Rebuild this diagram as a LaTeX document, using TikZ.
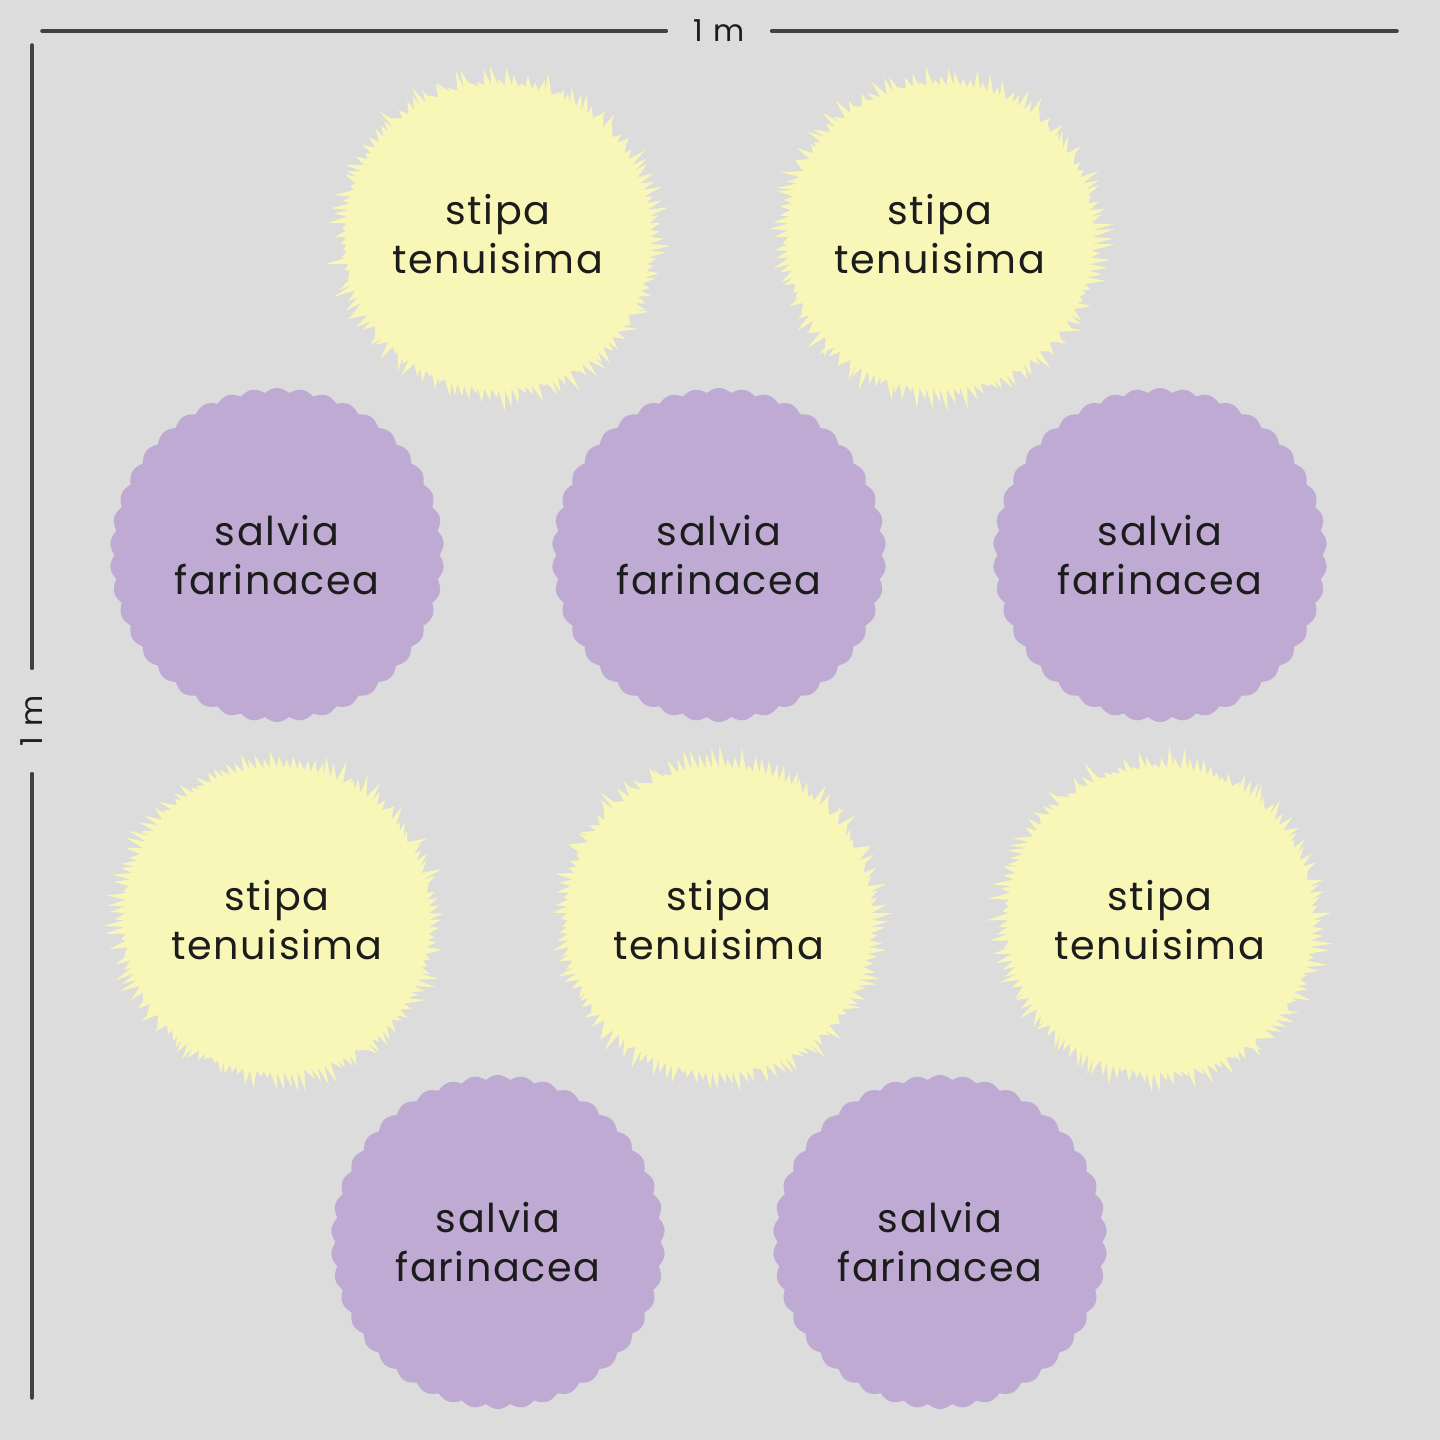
\documentclass[tikz,border=0pt]{standalone}
\usepackage{fontspec}
\setmainfont{Poppins}
\usetikzlibrary{positioning}
\definecolor{ground}{RGB}{220,220,220}
\definecolor{grass}{RGB}{249,247,183}
\definecolor{sage}{RGB}{190,170,211}
\definecolor{ink}{RGB}{28,28,28}
\definecolor{rulecol}{RGB}{65,65,65}

% spiky tuft for stipa, scalloped disc for salvia
\newcommand{\stipatuft}[1]{%
  \fill[grass, shift={(#1)}] (0:1.52)
    \foreach \k in {1,...,140} { -- ({360/140*\k-0.6+0.8*rnd}:{1.55+0.2*rnd}) -- ({360/140*\k}:1.52) } -- cycle;}
\newcommand{\salviadisc}[1]{%
  \fill[sage, shift={(#1)}] plot[domain=0:360, samples=505] (\x:{1.625+0.045*abs(sin(21*\x))}) -- cycle;}

\begin{document}
\begin{tikzpicture}[
  lbl/.style={align=center, text=ink, font=\fontsize{11.3}{14}\selectfont\addfontfeatures{LetterSpace=4}},
  dim/.style={text=ink, font=\fontsize{8.6}{10}\selectfont, inner sep=0pt, minimum width=1.04cm},
  rule/.style={draw=rulecol, line width=1pt, line cap=round}]

  \fill[ground] (0,0) rectangle (14.4,-14.4);
  \pgfmathsetseed{11}

  % top row
  \stipatuft{4.98,-2.37}  \node[lbl] (st1) at (4.98,-2.34) {stipa\\tenuisima};
  \stipatuft{9.40,-2.37}  \node[lbl] (st2) at (9.40,-2.34) {stipa\\tenuisima};
  % second row
  \salviadisc{2.77,-5.55}  \node[lbl] (sf1) at (2.77,-5.55) {salvia\\farinacea};
  \salviadisc{7.19,-5.55}  \node[lbl] (sf2) at (7.19,-5.55) {salvia\\farinacea};
  \salviadisc{11.60,-5.55} \node[lbl] (sf3) at (11.60,-5.55) {salvia\\farinacea};
  % third row
  \stipatuft{2.77,-9.20}  \node[lbl] (st3) at (2.77,-9.20) {stipa\\tenuisima};
  \stipatuft{7.19,-9.20}  \node[lbl] (st4) at (7.19,-9.20) {stipa\\tenuisima};
  \stipatuft{11.60,-9.20} \node[lbl] (st5) at (11.60,-9.20) {stipa\\tenuisima};
  % bottom row
  \salviadisc{4.98,-12.42} \node[lbl] (sf4) at (4.98,-12.42) {salvia\\farinacea};
  \salviadisc{9.40,-12.42} \node[lbl] (sf5) at (9.40,-12.42) {salvia\\farinacea};

  % dimensions
  \node[dim] (wlab) at (7.19,-0.31) {1\,\,m};
  \coordinate (wl) at (0.42,-0.31);
  \coordinate (wr) at (13.97,-0.31);
  \draw[rule] (wl) -- (wlab);
  \draw[rule] (wlab) -- (wr);

  \node[dim, rotate=90] (hlab) at (0.32,-7.21) {1\,\,m};
  \coordinate (ht) at (0.32,-0.45);
  \coordinate (hb) at (0.32,-13.98);
  \draw[rule] (ht) -- (hlab);
  \draw[rule] (hlab) -- (hb);
\end{tikzpicture}
\end{document}
